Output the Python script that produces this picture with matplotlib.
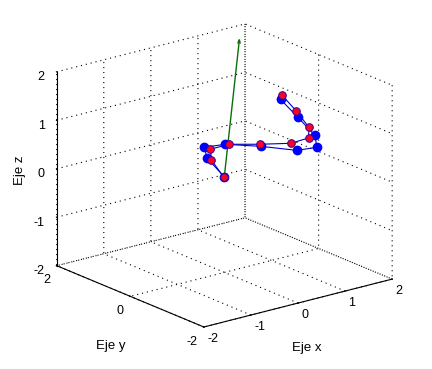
#!/usr/bin/python

import numpy as np
import matplotlib
matplotlib.use('Agg')
import matplotlib.pyplot as plt

plt.rcParams['font.family'] = ['Liberation Sans', 'DejaVu Sans']
plt.rcParams['axes.unicode_minus'] = False

# hand points (y taken as 0, depth is not readable)
red_x = [-0.015, -0.277, -0.298, 0.091, 0.751, 1.411, 1.787, 1.794, 1.526, 1.219]
red_y = [0, 0, 0, 0, 0, 0, 0, 0, 0, 0]
red_z = [-0.033, 0.388, 0.614, 0.621, 0.458, 0.315, 0.332, 0.55, 0.953, 1.359]

blue_x = [0.0, -0.368, -0.426, 0.015, 0.766, 1.538, 1.964, 1.921, 1.56, 1.191]
blue_y = [0, 0, 0, 0, 0, 0, 0, 0, 0, 0]
blue_z = [-0.03, 0.445, 0.687, 0.639, 0.412, 0.138, 0.095, 0.353, 0.814, 1.276]

# green arrow from the origin
arrow_uvw = [0.2, -0.15, 2.8]

x_ticks = [-2, -1, 0, 1, 2]
y_ticks = [-2, 0, 2]
z_ticks = [-2, -1, 0, 1, 2]

fig = plt.figure(figsize=(4.32, 3.69), dpi=100)
ax = fig.add_axes([-0.012, 0.011, 1.04, 1.0], projection='3d', computed_zorder=False)
ax.set_proj_type('ortho')
ax.view_init(elev=19, azim=-128)
ax.set_box_aspect((1, 1, 0.858), zoom=1.04)

ax.quiver(0, 0, 0, arrow_uvw[0], arrow_uvw[1], arrow_uvw[2], color='#0a6e0a',
          linewidth=1, arrow_length_ratio=0.03)
ax.plot(blue_x, blue_y, blue_z, '-', color='#0000c8', linewidth=0.8)
ax.plot(red_x, red_y, red_z, '-', color='#0000c8', linewidth=0.8)
ax.plot(blue_x, blue_y, blue_z, 'o', color='#0000ff', markersize=6, linestyle='none')
ax.plot(red_x, red_y, red_z, 'o', markerfacecolor='#ff0020', markeredgecolor='#3000a0',
        markeredgewidth=0.7, markersize=5.5, linestyle='none')

ax.set_xlim(-2, 2)
ax.set_ylim(-2, 2)
ax.set_zlim(-2, 2)
ax.set_xticks(x_ticks)
ax.set_yticks(y_ticks)
ax.set_zticks(z_ticks)
ax.tick_params(axis='x', labelsize=9, pad=-5)
ax.tick_params(axis='y', labelsize=9, pad=-3)
ax.tick_params(axis='z', labelsize=9, pad=-3)
for lab in ax.get_xticklabels():
    lab.set_ha('left')
for lab in ax.get_yticklabels():
    lab.set_ha('right')
for lab in ax.get_zticklabels():
    lab.set_ha('right')

# axis labels sit straight below the axes here, so place them directly
fig.text(307 / 432, 1 - 348 / 369, 'Eje x', fontsize=9.5, ha='center', va='center')
fig.text(111 / 432, 1 - 346 / 369, 'Eje y', fontsize=9.5, ha='center', va='center')
fig.text(20 / 432, 1 - 170 / 369, 'Eje z', fontsize=9.5, ha='center', va='center', rotation=90)

for axis in (ax.xaxis, ax.yaxis, ax.zaxis):
    axis.set_pane_color((1, 1, 1, 0))
    axis.pane.set_edgecolor('none')
    axis._axinfo['grid'].update(color='k', linestyle=(0, (1, 3.5)), linewidth=0.8)
    axis._axinfo['axisline']['color'] = 'k'
    axis._axinfo['tick']['inward_factor'] = 0.02
    axis._axinfo['tick']['outward_factor'] = 0.0
ax.zaxis.set_ticks_position('upper')

fig.savefig('out.png', dpi=100)
